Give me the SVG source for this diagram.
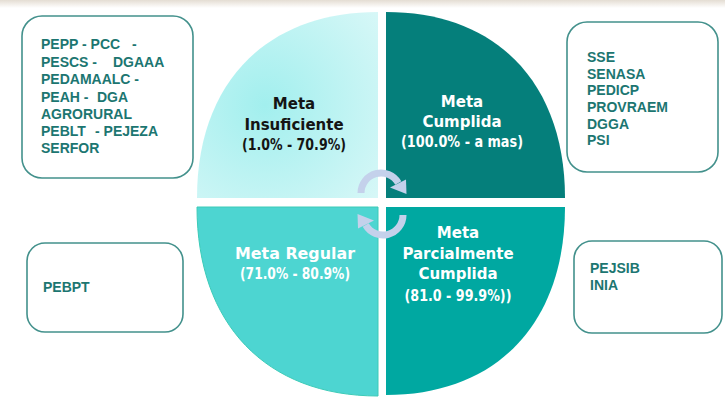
<svg xmlns="http://www.w3.org/2000/svg" width="725" height="410" viewBox="0 0 725 410">
<defs>
<radialGradient id="gIns" gradientUnits="userSpaceOnUse" cx="265" cy="105" r="160">
<stop offset="0" stop-color="#a2efee"/>
<stop offset="1" stop-color="#dcf8f8"/>
</radialGradient>
<linearGradient id="gTop" x1="0" y1="0" x2="0" y2="1">
<stop offset="0" stop-color="#e4ddd3"/>
<stop offset="1" stop-color="#ffffff"/>
</linearGradient>
<style>
.box{fill:#ffffff;stroke:#43918c;stroke-width:1.6}
.lst{font-family:"Liberation Sans",Arial,sans-serif;font-weight:bold;font-size:14px;fill:#1c7671}
.qt{font-family:"DejaVu Sans",Verdana,sans-serif;font-weight:bold;font-size:15px;text-anchor:middle}
.dark{fill:#141414}
.light{fill:#ffffff}
.arc{fill:none;stroke:#c4d1eb;stroke-width:7}
.head{fill:#c4d1eb}
</style>
</defs>
<rect x="0" y="0" width="725" height="410" fill="#ffffff"/>
<rect x="0" y="0" width="725" height="8" fill="url(#gTop)"/>

<g id="q-insuficiente">
<path d="M378,198 L197,198 C197,83 266,12 378,12 Z" fill="url(#gIns)"/>
<text class="qt dark" x="294" y="109">Meta</text>
<text class="qt dark" x="294" y="130">Insuficiente</text>
<text class="qt dark" x="294" y="150" textLength="104" lengthAdjust="spacingAndGlyphs">(1.0% - 70.9%)</text>
</g>

<g id="q-cumplida">
<path d="M386,198 L386,12 C497,12 565,83 565,198 Z" fill="#057f7b"/>
<text class="qt light" x="462" y="107">Meta</text>
<text class="qt light" x="462" y="127">Cumplida</text>
<text class="qt light" x="462" y="147" textLength="122" lengthAdjust="spacingAndGlyphs">(100.0% - a mas)</text>
</g>

<g id="q-regular">
<path d="M378,207 L197,207 C197,324 266,396 378,396 Z" fill="#4dd5d1" stroke="#3ccbb8" stroke-width="1"/>
<text class="qt light" x="295" y="259" textLength="120" lengthAdjust="spacingAndGlyphs">Meta Regular</text>
<text class="qt light" x="295" y="279" textLength="110" lengthAdjust="spacingAndGlyphs">(71.0% - 80.9%)</text>
</g>

<g id="q-parcial">
<path d="M386,207 L565,207 C565,323 497,395 386,395 Z" fill="#00a8a1"/>
<text class="qt light" x="458" y="238">Meta</text>
<text class="qt light" x="458" y="259">Parcialmente</text>
<text class="qt light" x="458" y="279">Cumplida</text>
<text class="qt light" x="458" y="301" textLength="107" lengthAdjust="spacingAndGlyphs">(81.0 - 99.9%))</text>
</g>

<g id="connectors">
<g id="cycle-top">
<path class="arc" d="M361,193 A20,20 0 0 1 398.3,183"/>
<polygon class="head" points="390,187.5 406,179.5 406.5,194"/>
</g>
<g id="cycle-bottom" transform="rotate(180 382 204)">
<path class="arc" d="M361,193 A20,20 0 0 1 398.3,183"/>
<polygon class="head" points="390,187.5 406,179.5 406.5,194"/>
</g>
</g>

<g id="box-left-top">
<rect class="box" x="22" y="16" width="171" height="162" rx="20"/>
<text class="lst" y="49"><tspan x="41">PEPP - PCC</tspan><tspan x="132">-</tspan></text>
<text class="lst" y="67"><tspan x="41">PESCS -</tspan><tspan x="113">DGAAA</tspan></text>
<text class="lst" x="41" y="84">PEDAMAALC -</text>
<text class="lst" y="102"><tspan x="41">PEAH -</tspan><tspan x="97">DGA</tspan></text>
<text class="lst" x="41" y="119">AGRORURAL</text>
<text class="lst" y="136"><tspan x="41">PEBLT</tspan><tspan x="95">- PEJEZA</tspan></text>
<text class="lst" x="41" y="153">SERFOR</text>
</g>

<g id="box-right-top">
<rect class="box" x="567" y="22" width="151" height="150" rx="20"/>
<text class="lst" x="587" y="62">SSE</text>
<text class="lst" x="587" y="79">SENASA</text>
<text class="lst" x="587" y="95">PEDICP</text>
<text class="lst" x="587" y="112">PROVRAEM</text>
<text class="lst" x="587" y="129">DGGA</text>
<text class="lst" x="587" y="145">PSI</text>
</g>

<g id="box-left-bottom">
<rect class="box" x="27" y="243" width="156" height="89" rx="18"/>
<text class="lst" x="43" y="292">PEBPT</text>
</g>

<g id="box-right-bottom">
<rect class="box" x="574" y="241" width="148" height="92" rx="18"/>
<text class="lst" x="590" y="273">PEJSIB</text>
<text class="lst" x="590" y="290">INIA</text>
</g>
</svg>
